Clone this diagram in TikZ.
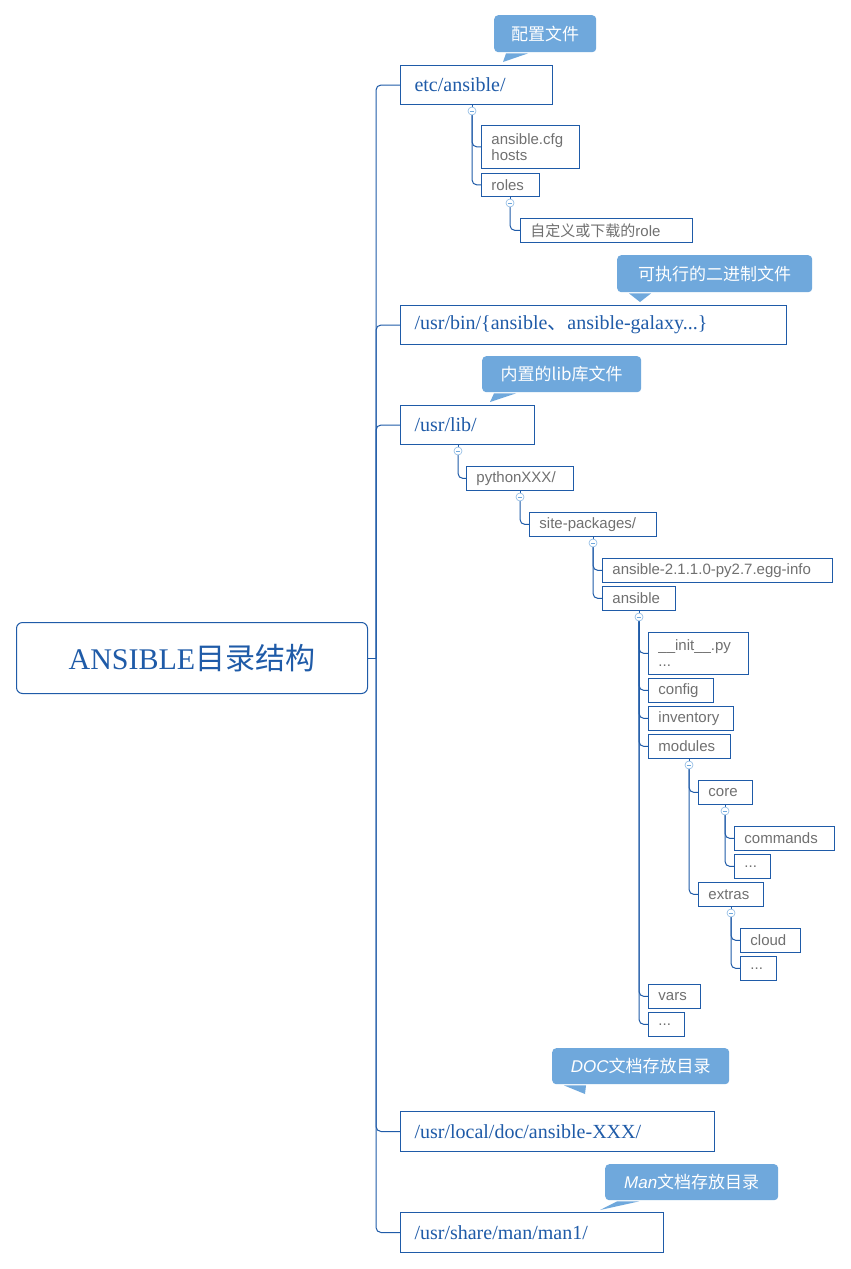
\documentclass[tikz,border=0pt]{standalone}
\usepackage{fontspec}
\setmainfont{Liberation Serif}
\setsansfont{Liberation Sans}
\newfontfamily\cjk{Noto Sans CJK SC}
\usetikzlibrary{calc}
\definecolor{nblue}{HTML}{1F5BA8}
\definecolor{cblue}{HTML}{6FA8DC}
\definecolor{tgray}{HTML}{707070}
\tikzset{
 big/.style={draw=nblue,line width=1pt,anchor=north west,inner xsep=14pt,inner ysep=0pt,align=left,text=nblue,font=\fontsize{20}{22}\selectfont},
 sm/.style={draw=nblue,line width=0.9pt,anchor=north west,inner xsep=10pt,inner ysep=0pt,align=left,text=tgray,font=\sffamily\fontsize{15}{17}\selectfont},
 conn/.style={draw=nblue,line width=1pt,rounded corners=5pt},
 coll/.style={circle,draw=cblue!80,fill=white,line width=0.6pt,inner sep=0pt,minimum size=8pt},
 call/.style={fill=cblue,rounded corners=4pt,text=white,font=\cjk\itshape\fontsize{17}{19}\selectfont,inner sep=0pt,anchor=north west}
}
\newcommand{\bx}[7]{% name,x1,y1,x2,y2,style,text
 \pgfmathsetmacro\ww{#4-#2}\pgfmathsetmacro\hh{#5-#3}\pgfmathsetmacro\tw{#4-#2-20}
 \node[#6,minimum width=\ww pt,minimum height=\hh pt,text width=\tw pt] (#1) at (#2,#3) {#7};}
\newcommand{\callout}[7]{% name,x1,y1,x2,y2,tipx,text
 \pgfmathsetmacro\ww{#4-#2}\pgfmathsetmacro\hh{#5-#3}
 \node[call,minimum width=\ww pt,minimum height=\hh pt] (#1) at (#2,#3) {#7};
 \fill[cblue] ($(#1.south west)+(12,1)$) -- ($(#1.south west)+(34,1)$) -- (#6,#5+10) -- cycle;}
\newcommand{\col}[3]{\node[coll] (#1) at (#2,#3) {}; \draw[cblue,line width=0.6pt] (#2-2.2,#3) -- (#2+2.2,#3);}
\newcommand{\kid}[2]{\draw[conn] (#1) -- (#1 |- #2.west) -- (#2.west);}
\begin{document}
\begin{tikzpicture}[x=1pt,y=-1pt]
\useasboundingbox[fill=white] (0,0) rectangle (851,1269);
% root
\node[draw=nblue,line width=1pt,rounded corners=6pt,minimum width=351pt,minimum height=71pt,anchor=north west,text=nblue,font=\fontsize{30}{32}\selectfont] (root) at (16,622) {ANSIBLE{\cjk 目录结构}};
% main nodes
\bx{etc}{400}{65}{544}{104}{big,text width=116pt}{etc/ansible/}
\bx{bin}{400}{305}{778}{344}{big,text width=350pt}{/usr/bin/\{ansible{\cjk 、}ansible-galaxy...\}}
\bx{lib}{400}{405}{526}{444}{big,text width=98pt}{/usr/lib/}
\bx{doc}{400}{1111}{706}{1151}{big,text width=278pt}{/usr/local/doc/ansible-XXX/}
\bx{man}{400}{1212}{655}{1252}{big,text width=227pt}{/usr/share/man/man1/}
% callouts
\callout{c1}{494}{15}{596}{52}{503}{配置文件}
\callout{c2}{617}{255}{812}{292}{640}{可执行的二进制文件}
\callout{c3}{482}{356}{641}{392}{490}{内置的lib库文件}
\callout{c4}{552}{1048}{729}{1084}{585}{{\sffamily\itshape DOC}文档存放目录}
\callout{c5}{605}{1164}{778}{1200}{600}{{\sffamily\itshape Man}文档存放目录}
% trunk
\coordinate (tr) at (376,658);
\draw[conn] (root.east) -- (tr);
\foreach \n in {etc,bin,lib,doc,man}{\draw[conn] (tr) -- (tr |- \n.west) -- (\n.west);}
% etc subtree
\bx{cfg}{481}{125}{579}{168}{sm}{ansible.cfg\\[-1pt]hosts}
\bx{roles}{481}{173}{539}{196}{sm}{roles}
\bx{role}{520}{218}{692}{242}{sm}{{\cjk 自定义或下载的}role}
\draw[conn] (472,104) -- (472,111);
\kid{472,111}{cfg}\kid{472,111}{roles}\col{e1}{472}{111}
\draw[conn] (510,196) -- (510,203);
\kid{510,203}{role}\col{e2}{510}{203}
% lib subtree
\bx{py}{466}{466}{573}{490}{sm}{pythonXXX/}
\bx{site}{529}{512}{656}{536}{sm}{site-packages/}
\bx{egg}{602}{558}{832}{582}{sm}{ansible-2.1.1.0-py2.7.egg-info}
\bx{ans}{602}{586}{675}{610}{sm}{ansible}
\bx{init}{648}{632}{748}{674}{sm}{\_\_init\_\_.py\\[-1pt]...}
\bx{config}{648}{678}{713}{702}{sm}{config}
\bx{inv}{648}{706}{733}{730}{sm}{inventory}
\bx{mods}{648}{734}{730}{758}{sm}{modules}
\bx{core}{698}{780}{752}{804}{sm}{core}
\bx{cmds}{734}{826}{834}{850}{sm}{commands}
\bx{cd}{734}{854}{770}{878}{sm}{...}
\bx{extras}{698}{882}{763}{906}{sm}{extras}
\bx{cloud}{740}{928}{800}{952}{sm}{cloud}
\bx{xd}{740}{956}{776}{980}{sm}{...}
\bx{vars}{648}{984}{700}{1008}{sm}{vars}
\bx{ad}{648}{1012}{684}{1036}{sm}{...}
\draw[conn] (458,444) -- (458,451); \kid{458,451}{py}\col{l1}{458}{451}
\draw[conn] (520,490) -- (520,497); \kid{520,497}{site}\col{l2}{520}{497}
\draw[conn] (593,536) -- (593,543); \kid{593,543}{egg}\kid{593,543}{ans}\col{l3}{593}{543}
\draw[conn] (639,610) -- (639,617);
\foreach \n in {init,config,inv,mods,vars,ad}{\kid{639,617}{\n}}
\col{l4}{639}{617}
\draw[conn] (689,758) -- (689,765); \kid{689,765}{core}\kid{689,765}{extras}\col{l5}{689}{765}
\draw[conn] (725,804) -- (725,811); \kid{725,811}{cmds}\kid{725,811}{cd}\col{l6}{725}{811}
\draw[conn] (731,906) -- (731,913); \kid{731,913}{cloud}\kid{731,913}{xd}\col{l7}{731}{913}
\end{tikzpicture}
\end{document}
